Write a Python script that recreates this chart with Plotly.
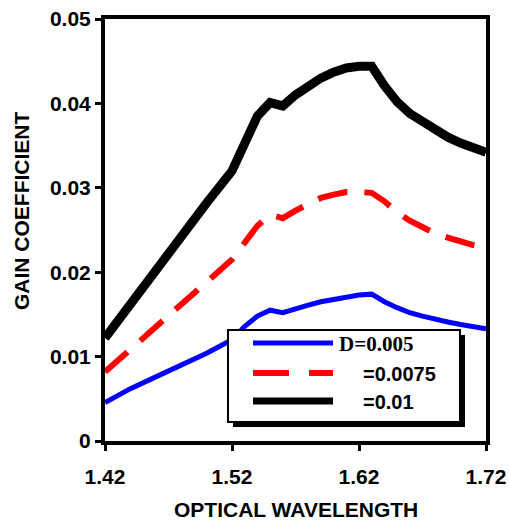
import plotly.graph_objects as go

wavelength = [1.42, 1.44, 1.46, 1.48, 1.50, 1.52, 1.53, 1.54, 1.55, 1.56, 1.57, 1.58, 1.59,
              1.60, 1.61, 1.62, 1.63, 1.64, 1.65, 1.66, 1.67, 1.68, 1.69, 1.70, 1.71, 1.72]
gain_d005 = [0.00455, 0.0062, 0.0076, 0.0090, 0.0104, 0.0120, 0.0136, 0.0148, 0.0155, 0.0152,
             0.0157, 0.0161, 0.0165, 0.0168, 0.0171, 0.0173, 0.0174, 0.0165, 0.0158, 0.0152,
             0.0148, 0.0144, 0.0141, 0.0138, 0.0135, 0.0133]
gain_d0075 = [0.0082, 0.0109, 0.0136, 0.0162, 0.0189, 0.0215, 0.0235, 0.0255, 0.0268, 0.0264,
              0.0273, 0.0281, 0.0288, 0.0292, 0.0295, 0.0295, 0.0294, 0.0284, 0.0271, 0.0261,
              0.0253, 0.0246, 0.0241, 0.0236, 0.0232, 0.0228]
gain_d01 = [0.0122, 0.0163, 0.0203, 0.0243, 0.0282, 0.0320, 0.0352, 0.0385, 0.0401, 0.0397,
            0.0410, 0.0421, 0.0430, 0.0437, 0.0442, 0.0444, 0.0444, 0.0421, 0.0402, 0.0388,
            0.0378, 0.0368, 0.0360, 0.0353, 0.0347, 0.0342]

x_tickvals = [1.42, 1.52, 1.62, 1.72]
x_ticktext = ["1.42", "1.52", "1.62", "1.72"]
y_tickvals = [0, 0.01, 0.02, 0.03, 0.04, 0.05]
y_ticktext = ["0", "0.01", "0.02", "0.03", "0.04", "0.05"]

legend_labels = ["D=0.005", "=0.0075", "=0.01"]

W, H = 509, 524
L, R, T, B = 105, 23, 19, 83
PW, PH = W - L - R, H - T - B


def px(xp):  # window pixel -> paper x
    return (xp - L) / PW


def py(yp):  # window pixel -> paper y
    return (H - B - yp) / PH


fig = go.Figure()
fig.add_trace(go.Scatter(x=wavelength, y=gain_d005, mode="lines",
                         line=dict(color="#0000ff", width=5), name=legend_labels[0]))
fig.add_trace(go.Scatter(x=wavelength, y=gain_d0075, mode="lines",
                         line=dict(color="#ff0000", width=6, dash="30px,17px"), name=legend_labels[1]))
fig.add_trace(go.Scatter(x=wavelength, y=gain_d01, mode="lines",
                         line=dict(color="#000000", width=9), name=legend_labels[2]))

SANS = "Liberation Sans, Arial, sans-serif"
tickfont = dict(family=SANS, size=21, color="black")

fig.update_layout(
    width=W, height=H,
    margin=dict(l=L, r=R, t=T, b=B, autoexpand=False),
    paper_bgcolor="white", plot_bgcolor="white",
    showlegend=False,
    xaxis=dict(range=[1.42, 1.72], tickvals=x_tickvals,
               ticktext=["<b>%s</b>" % t for t in x_ticktext],
               showgrid=False, zeroline=False, showline=True, mirror=True,
               linecolor="black", linewidth=4, ticks="outside", ticklen=6,
               tickwidth=3, tickcolor="black", tickfont=tickfont, automargin=False,
               ticklabelstandoff=8, ticklabeloverflow="allow"),
    yaxis=dict(range=[0, 0.05], tickvals=y_tickvals,
               ticktext=["<b>%s</b>" % t for t in y_ticktext],
               showgrid=False, zeroline=False, showline=True, mirror=True,
               linecolor="black", linewidth=4, ticks="outside", ticklen=6,
               tickwidth=3, tickcolor="black", tickfont=tickfont, automargin=False,
               ticklabeloverflow="allow"),
)

# axis titles
fig.add_annotation(text="<b>OPTICAL WAVELENGTH</b>", xref="paper", yref="paper",
                   x=px(296), y=py(509), showarrow=False,
                   font=dict(family=SANS, size=21, color="black"),
                   xanchor="center", yanchor="middle")
fig.add_annotation(text="<b>GAIN COEFFICIENT</b>", xref="paper", yref="paper",
                   x=px(21), y=py(211), showarrow=False, textangle=-90,
                   font=dict(family=SANS, size=21, color="black"),
                   xanchor="center", yanchor="middle")

# legend box with shadow
fig.add_shape(type="rect", xref="paper", yref="paper",
              x0=px(233), x1=px(465), y0=py(335), y1=py(427),
              fillcolor="black", line=dict(width=0), layer="above")
fig.add_shape(type="rect", xref="paper", yref="paper",
              x0=px(228), x1=px(460), y0=py(330), y1=py(422),
              fillcolor="white", line=dict(color="black", width=2), layer="above")
fig.add_shape(type="line", xref="paper", yref="paper",
              x0=px(253), x1=px(333), y0=py(343), y1=py(343),
              line=dict(color="#0000ff", width=5), layer="above")
fig.add_shape(type="line", xref="paper", yref="paper",
              x0=px(253), x1=px(333), y0=py(373), y1=py(373),
              line=dict(color="#ff0000", width=6, dash="36px,20px"), layer="above")
fig.add_shape(type="line", xref="paper", yref="paper",
              x0=px(253), x1=px(333), y0=py(401), y1=py(401),
              line=dict(color="black", width=7), layer="above")
fig.add_annotation(text="<b>" + legend_labels[0] + "</b>", xref="paper", yref="paper",
                   x=px(337), y=py(344), showarrow=False, xanchor="left", yanchor="middle",
                   font=dict(family="Liberation Serif, Times New Roman, serif", size=21, color="black"))
fig.add_annotation(text="<b>" + legend_labels[1] + "</b>", xref="paper", yref="paper",
                   x=px(361), y=py(374), showarrow=False, xanchor="left", yanchor="middle",
                   font=dict(family=SANS, size=20, color="black"))
fig.add_annotation(text="<b>" + legend_labels[2] + "</b>", xref="paper", yref="paper",
                   x=px(361), y=py(402), showarrow=False, xanchor="left", yanchor="middle",
                   font=dict(family=SANS, size=20, color="black"))

fig.write_html("out.html", config={"displayModeBar": False},
               post_script="document.body.style.margin='0';document.body.style.overflow='hidden';")
